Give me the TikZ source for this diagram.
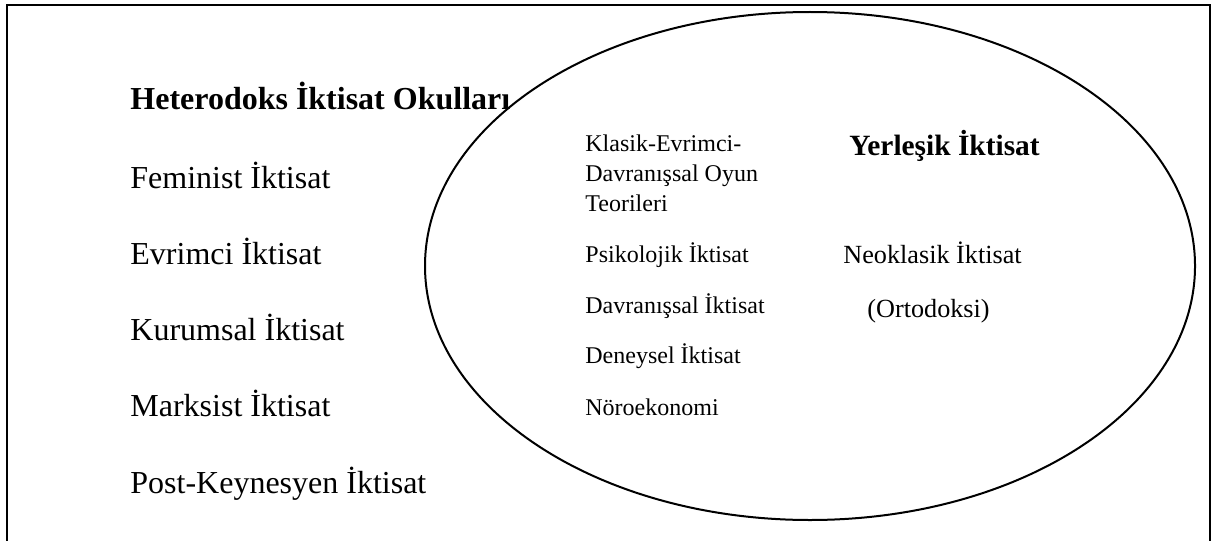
\documentclass[tikz,border=0pt]{standalone}
\usepackage{fontspec}
\setmainfont{Liberation Serif}
\usepackage{tikz}
\usetikzlibrary{positioning}

\begin{document}
\begin{tikzpicture}[x=0.5pt,y=-0.5pt,
    every node/.style={anchor=base west, inner sep=0pt},
    okul/.style={font=\fontsize{16}{19}\selectfont},
    baslik/.style={font=\fontsize{16}{19}\selectfont\bfseries},
    ic/.style={font=\fontsize{12}{15}\selectfont, align=left},
    yer/.style={font=\fontsize{13.1}{16}\selectfont}]
    \useasboundingbox (0,0) rectangle (1213,540);
    % frame, bottom edge outside the picture
    \draw[line width=1pt] (7,560) -- (7,5) -- (1210,5) -- (1210,560);
    % heterodox schools
    \node[baslik] (hetero) at (130,110) {Heterodoks İktisat Okulları};
    \node[okul] (feminist) at (130,188) {Feminist İktisat};
    \node[okul] (evrimci) at (130,264) {Evrimci İktisat};
    \node[okul] (kurumsal) at (130,340) {Kurumsal İktisat};
    \node[okul] (marksist) at (130,416) {Marksist İktisat};
    \node[okul] (postkeynes) at (130,493) {Post-Keynesyen İktisat};
    % mainstream
    \draw[line width=1pt] (810,266) ellipse [x radius=385, y radius=254];
    \node[ic] (oyun) at (585,211) {Klasik-Evrimci-\\Davranışsal Oyun\\Teorileri};
    \node[ic] (psikolojik) at (585,262) {Psikolojik İktisat};
    \node[ic] (davranissal) at (585,313) {Davranışsal İktisat};
    \node[ic] (deneysel) at (585,363) {Deneysel İktisat};
    \node[ic] (noro) at (585,415) {Nöroekonomi};
    \node[yer, font=\fontsize{14.7}{17}\selectfont\bfseries] (yerlesik) at (849,155) {Yerleşik İktisat};
    \node[yer] (neoklasik) at (843,263) {Neoklasik İktisat};
    \node[yer] (ortodoksi) at (867,317) {(Ortodoksi)};
\end{tikzpicture}
\end{document}
